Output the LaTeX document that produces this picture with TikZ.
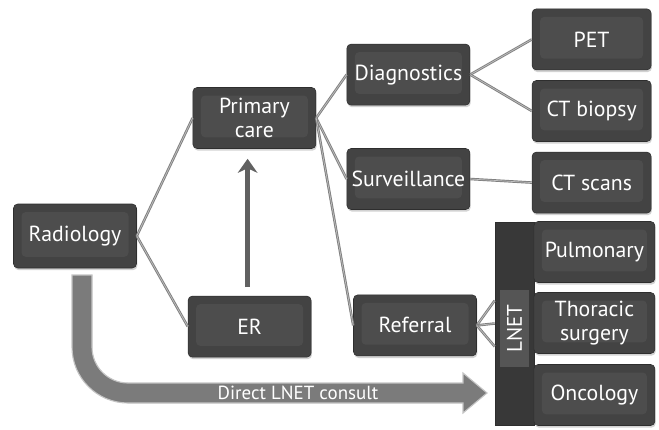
\documentclass[tikz,border=0pt]{standalone}
\usepackage{fontspec}
\setmainfont{PT Sans}
\usepackage{tikz}
\usetikzlibrary{calc, shadows, arrows.meta}
\definecolor{boxgray}{HTML}{434343}
\definecolor{boxhi}{HTML}{4D4D4D}
\definecolor{boxline}{HTML}{2E2E2E}
\definecolor{bargray}{HTML}{383838}
\definecolor{taggray}{HTML}{555555}
\definecolor{linkgray}{HTML}{7F7F7F}
\definecolor{bandgray}{HTML}{7B7B7B}
\definecolor{bandline}{HTML}{C4C4C4}

\begin{document}
\begin{tikzpicture}[>=latex,
    box/.style={rounded corners=3pt, draw=boxline, fill=boxgray, text=white,
        minimum width=3.075cm, minimum height=1.525cm, inner sep=2pt, align=center,
        font=\fontsize{15.5}{17}\selectfont,
        drop shadow={opacity=0.35, shadow xshift=0.6pt, shadow yshift=-1.5pt},
        path picture={\fill[boxhi] ($(path picture bounding box.south west)+(0.2,0.28)$)
            rectangle ($(path picture bounding box.north east)+(-0.2,-0.2)$);}},
    link/.style={draw=linkgray, double=black!25, double distance=0.5pt, line width=0.65pt},
    uparrow/.style={draw=black!62, line width=3pt, -{Stealth[length=10pt, width=14pt]}}]
    \useasboundingbox[fill=white] (0,0) rectangle (16.475,10.725);
    % Kästen
    \node[box, minimum height=1.6cm] (rad) at (1.875,4.825) {Radiology};
    \node[box] (pc) at (6.36,7.775) {Primary\\care};
    \node[box] (er) at (6.24,2.56) {ER};
    \node[box] (diag) at (10.21,8.86) {Diagnostics};
    \node[box] (surv) at (10.21,6.25) {Surveillance};
    \node[box] (ref) at (10.375,2.59) {Referral};
    \node[box, minimum width=2.975cm] (pet) at (14.79,9.74) {PET};
    \node[box, minimum width=2.975cm] (ctb) at (14.79,7.95) {CT biopsy};
    \node[box, minimum width=2.975cm] (cts) at (14.79,6.16) {CT scans};
    % LNET-Balken
    \node[fill=bargray, draw=boxline, minimum width=0.975cm, minimum height=5.075cm,
        inner sep=0pt] (lnet) at (12.8625,2.6375) {};
    \node[fill=taggray, text=white, rotate=90, minimum width=1.925cm, minimum height=0.725cm,
        font=\fontsize{15}{17}\selectfont, inner sep=0pt] (lnettag) at (12.86,2.5125) {LNET};
    \node[box, minimum width=3.025cm] (pulm) at (14.86,4.425) {Pulmonary};
    \node[box, minimum width=3.025cm] (thor) at (14.86,2.65) {Thoracic\\surgery};
    \node[box, minimum width=3.025cm] (onc) at (14.86,0.85) {Oncology};
    % Verbindungen
    \draw[link] (rad.east) -- (pc.west);
    \draw[link] (rad.east) -- (er.west);
    \draw[link] (pc.east) -- (diag.west);
    \draw[link] (pc.east) -- (surv.west);
    \draw[link] (pc.east) -- (ref.west);
    \draw[link] (diag.east) -- (pet.west);
    \draw[link] (diag.east) -- (ctb.west);
    \draw[link] (surv.east) -- (cts.west);
    \draw[link] (ref.east) -- ($(lnet.west)+(0,0.575)$);
    \draw[link] (ref.east) -- (lnet.west);
    \draw[link] (ref.east) -- ($(lnet.west)+(0,-0.575)$);
    % ER -> Primary care
    \draw[uparrow, shorten <=0.22cm, shorten >=0.25cm]
        ([xshift=-0.05cm]er.north) -- ([xshift=-0.05cm]er.north |- pc.south);
    % direkter Weg
    \filldraw[fill=bandgray, draw=bandline, line width=0.8pt]
        (1.8,3.85) -- (1.8,2.05) arc[start angle=180, end angle=270, radius=1.4]
        -- (11.575,0.65) -- (11.575,0.4) -- (12.175,0.9) -- (11.575,1.4) -- (11.575,1.15)
        -- (3.2,1.15) arc[start angle=270, end angle=180, radius=0.9] -- (2.3,3.85) -- cycle;
    \node[text=white, font=\fontsize{13.5}{15}\selectfont, inner sep=0pt] (consult)
        at (7.45,0.9) {Direct LNET consult};
\end{tikzpicture}
\end{document}
